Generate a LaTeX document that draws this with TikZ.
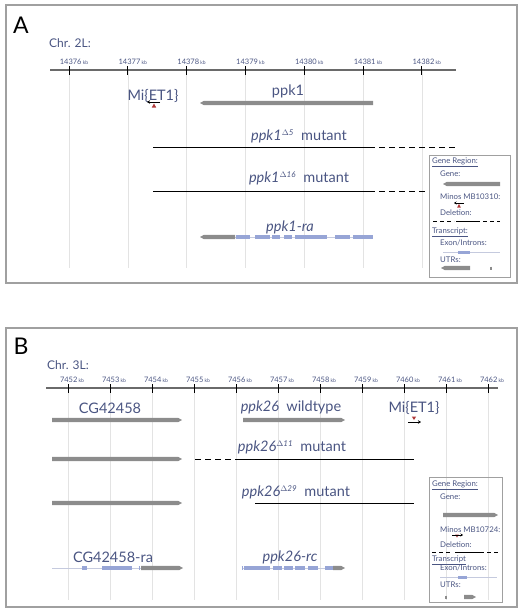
\documentclass[tikz,border=0pt]{standalone}
\usepackage{fontspec}
\setmainfont{Lato}
\usetikzlibrary{arrows.meta}
\definecolor{labtxt}{HTML}{4A5582}
\definecolor{genegray}{HTML}{8C8C8C}
\definecolor{exonblue}{HTML}{97A5D6}
\definecolor{gridgray}{HTML}{E3E3E3}
\definecolor{framegray}{HTML}{A0A0A0}
\definecolor{axisgray}{HTML}{6A6A6A}
\definecolor{minosred}{HTML}{B03A3A}
\tikzset{
  lbl/.style={text=labtxt, font=\fontsize{14.5}{16}\selectfont, inner sep=0pt},
  kbl/.style={text=labtxt, font=\fontsize{7.5}{8}\selectfont, inner sep=0pt},
  key/.style={text=labtxt, font=\fontsize{7.8}{8}\selectfont, inner sep=0pt, anchor=west},
  grid/.style={gridgray, line width=0.6pt},
  frame/.style={draw=framegray, line width=1.1pt},
  legbox/.style={draw=framegray, line width=0.9pt},
  intron/.style={gridgray!60!exonblue, line width=0.5pt},
  exon/.style={exonblue, line width=4pt},
  del/.style={black, line width=0.9pt},
  dashdel/.style={black, line width=0.9pt, dash pattern=on 6pt off 4pt},
}
% gray gene bars with a pointed end
\newcommand{\barleft}[3]{\fill[genegray] (#1+4,#3-2.2) -- (#2,#3-2.2) -- (#2,#3+2.2) -- (#1+4,#3+2.2) -- (#1,#3) -- cycle;}
\newcommand{\barright}[3]{\fill[genegray] (#1,#3-2.2) -- (#2-4,#3-2.2) -- (#2,#3) -- (#2-4,#3+2.2) -- (#1,#3+2.2) -- cycle;}
\newcommand{\mutlbl}[2]{\textit{#1}\textsuperscript{\textit{\fontsize{8}{8}\selectfont$\Delta$#2}}\enspace mutant}
\begin{document}
\begin{tikzpicture}[x=1pt, y=-1pt]
\useasboundingbox (0,0) rectangle (523,614);

%% panel A
\draw[frame] (6,5) rectangle (517,283);
\node[font=\fontsize{23}{23}\selectfont, inner sep=0pt] (labA) at (21,25) {A};
\node[lbl, font=\fontsize{12}{14}\selectfont, anchor=west] (chrA) at (49,43) {Chr. 2L:};
\foreach[evaluate=\k as \tx using 69+58.8*\k] \k in {0,...,6}{
	\draw[grid] (\tx,70) -- (\tx,268);
}
\draw[axisgray, line width=1.2pt] (50,70) -- (456,70);
\foreach[evaluate=\k as \tx using 69+58.8*\k, evaluate=\k as \kb using int(14376+\k)] \k in {0,...,6}{
	\draw[black, line width=0.9pt] (\tx,66) -- (\tx,75);
	\node[kbl] at (\tx+5,62) {\kb\,{\fontsize{5}{5}\selectfont kb}};
}
% Mi{ET1} insertion
\node[lbl] (miA) at (153,96) {Mi\{ET1\}};
\draw[black, line width=0.8pt, -{Stealth[length=3pt,width=3.5pt]}] (160,102) -- (147,102);
\fill[minosred] (154,103.5) -- (151.8,107.5) -- (156.2,107.5) -- cycle;
% ppk1 gene
\node[lbl] (ppk1) at (288,91) {ppk1};
\barleft{200}{373}{103}
% mutants
\node[lbl] (d5) at (299,136) {\mutlbl{ppk1}{5}};
\draw[del] (153,147) -- (375,147);
\draw[dashdel] (379,147) -- (456,147);
\node[lbl] (d16) at (299,178) {\mutlbl{ppk1}{16}};
\draw[del] (153,191) -- (375,191);
\draw[dashdel] (379,191) -- (428,191);
% transcript
\node[lbl] (ppkra) at (290,227) {\textit{ppk1-ra}};
\draw[intron] (235,237) -- (373,237);
\barleft{200}{235}{237}
\foreach \a/\b in {236/250, 255/270, 272/280, 284/292, 295/327, 335/350, 353/373}{
	\draw[exon] (\a,237) -- (\b,237);
}
% legend A
\draw[legbox] (429,155) rectangle (510,277);
\node[key] (grA) at (432,162) {\underline{Gene Region:}};
\node[key] (geneA) at (440,174) {Gene:};
\barleft{443}{500}{184}
\node[key] (minA) at (440,197) {Minos MB10310:};
\draw[black, line width=0.7pt, -{Stealth[length=2.5pt,width=3pt]}] (464,203) -- (454,203);
\fill[minosred] (459,204) -- (457.2,207.5) -- (460.8,207.5) -- cycle;
\node[key] (delA) at (440,213) {Deletion:};
\draw[dashdel, dash pattern=on 4pt off 3pt] (433,221) -- (454,221);
\draw[del] (456,221) -- (480,221);
\draw[dashdel, dash pattern=on 4pt off 3pt] (483,221) -- (500,221);
\node[key] (trA) at (432,232) {\underline{Transcript:}};
\node[key] (exA) at (440,243) {Exon/Introns:};
\draw[intron] (443,252) -- (500,252);
\draw[exon, line width=3pt] (458,252) -- (470,252);
\node[key] (utrA) at (440,260) {UTRs:};
\barleft{441}{470}{268}
\draw[genegray, line width=1.2pt] (491,266.5) -- (491,269.5);

%% panel B
\draw[frame] (6,328) rectangle (517,607);
\node[font=\fontsize{23}{23}\selectfont, inner sep=0pt] (labB) at (21,346) {B};
\node[lbl, font=\fontsize{12}{14}\selectfont, anchor=west] (chrB) at (47,365) {Chr. 3L:};
\foreach[evaluate=\k as \tx using 68+42*\k] \k in {0,...,10}{
	\draw[grid] (\tx,388) -- (\tx,600);
}
\draw[axisgray, line width=1.2pt] (46,388) -- (498,388);
\foreach[evaluate=\k as \tx using 68+42*\k, evaluate=\k as \kb using int(7452+\k)] \k in {0,...,10}{
	\draw[black, line width=0.9pt] (\tx,384) -- (\tx,393);
	\node[kbl] at (\tx+4,380) {\kb\,{\fontsize{5}{5}\selectfont kb}};
}
% genes
\node[lbl] (cg) at (110,408) {CG42458};
\barright{52}{182}{420}
\node[lbl] (wt) at (291,407) {\textit{ppk26}\enspace wildtype};
\barright{243}{345}{420}
\node[lbl] (miB) at (414,408) {Mi\{ET1\}};
\fill[minosred] (414,420) -- (411.8,416.5) -- (416.2,416.5) -- cycle;
\draw[black, line width=0.8pt, -{Stealth[length=3pt,width=3.5pt]}] (408,422) -- (421,422);
% mutants
\node[lbl] (d11) at (292,447) {\mutlbl{ppk26}{11}};
\barright{52}{182}{459}
\draw[dashdel] (195,459) -- (237,459);
\draw[del] (237,459) -- (414,459);
\node[lbl] (d29) at (296,492) {\mutlbl{ppk26}{29}};
\barright{52}{182}{503}
\draw[del] (255,503) -- (414,503);
% transcripts
\node[lbl] (cgra) at (113,557) {CG42458-ra};
\draw[intron] (52,568) -- (141,568);
\foreach \a/\b in {82/87, 102/132, 138.5/140}{
	\draw[exon] (\a,568) -- (\b,568);
}
\barright{141}{183}{568}
\node[lbl] (rc) at (290,557) {\textit{ppk26-rc}};
\draw[intron] (242,568) -- (334,568);
\foreach \a/\b in {241.5/243, 244/270, 273/282, 284/293, 295/305, 308/318, 325/333}{
	\draw[exon] (\a,568) -- (\b,568);
}
\barright{333}{345}{568}
% legend B
\draw[legbox] (429,477) rectangle (502,602);
\node[key] (grB) at (432,485) {\underline{Gene Region:}};
\node[key] (geneB) at (440,497) {Gene:};
\barright{443}{498}{515}
\node[key] (minB) at (440,530) {Minos MB10724:};
\fill[minosred] (457,537.5) -- (455.2,534.5) -- (458.8,534.5) -- cycle;
\draw[black, line width=0.7pt, -{Stealth[length=2.5pt,width=3pt]}] (452,535) -- (463,535);
\node[key] (delB) at (440,545) {Deletion:};
\draw[dashdel, dash pattern=on 4pt off 3pt] (432,552) -- (452,552);
\draw[del] (455,552) -- (484,552);
\draw[dashdel, dash pattern=on 4pt off 3pt] (487,552) -- (498,552);
\node[key] (trB) at (432,560) {\underline{Transcript}};
\node[key] (exB) at (440,568) {Exon/Introns:};
\draw[intron] (440,577) -- (497,577);
\draw[exon, line width=3pt] (458,577) -- (467,577);
\node[key] (utrB) at (440,585) {UTRs:};
\draw[genegray, line width=1.2pt] (446,595.5) -- (446,598.5);
\barright{464}{476}{597}
\end{tikzpicture}
\end{document}
